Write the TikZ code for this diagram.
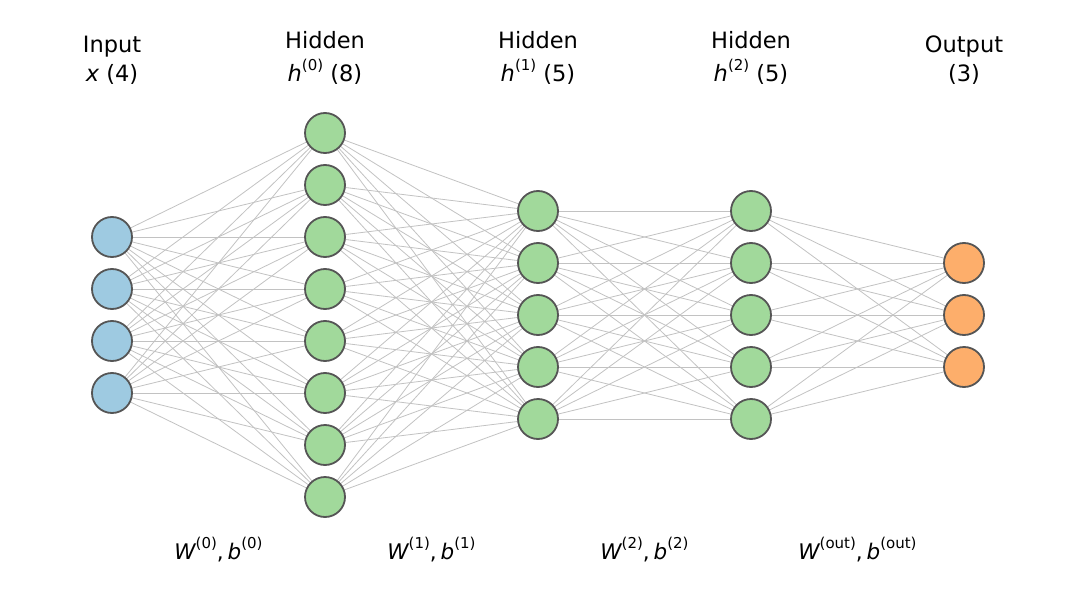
\documentclass[tikz,border=0pt]{standalone}
\usepackage{fontspec}
\setmainfont{DejaVu Sans}
\pgfdeclarelayer{bg}
\pgfsetlayers{bg,main}
\definecolor{inblue}{HTML}{9ECAE1}
\definecolor{hidgreen}{HTML}{A1D99B}
\definecolor{outorange}{HTML}{FDAE6B}
\definecolor{nborder}{HTML}{555555}
\definecolor{edgegray}{HTML}{C2C2C2}
\newcommand{\mysup}[1]{\raisebox{0.5em}{\fontsize{15}{15}\selectfont #1}}
\tikzset{
  neuron/.style={circle, draw=nborder, line width=1.8pt, minimum size=40pt, inner sep=0pt},
  inneuron/.style={neuron, fill=inblue},
  hidneuron/.style={neuron, fill=hidgreen},
  outneuron/.style={neuron, fill=outorange},
  conn/.style={draw=edgegray, line width=0.8pt},
  title/.style={font=\fontsize{22.5}{26}\selectfont, anchor=base, inner sep=0pt},
  wlabel/.style={font=\fontsize{21.5}{25}\selectfont, anchor=base, inner sep=0pt}
}
\begin{document}
\begin{tikzpicture}[x=1pt,y=-1pt]
\useasboundingbox (0,0) rectangle (1076,607);
% nodes
\foreach \k in {1,...,4} \node[inneuron] (i\k) at (112,{237+52*(\k-1)}) {};
\foreach \k in {1,...,8} \node[hidneuron] (a\k) at (325,{133+52*(\k-1)}) {};
\foreach \k in {1,...,5} \node[hidneuron] (b\k) at (538,{211+52*(\k-1)}) {};
\foreach \k in {1,...,5} \node[hidneuron] (c\k) at (751,{211+52*(\k-1)}) {};
\foreach \k in {1,...,3} \node[outneuron] (o\k) at (964,{263+52*(\k-1)}) {};
% connections
\begin{pgfonlayer}{bg}
\foreach \p in {1,...,4} \foreach \q in {1,...,8} \draw[conn] (i\p.center) -- (a\q.center);
\foreach \p in {1,...,8} \foreach \q in {1,...,5} \draw[conn] (a\p.center) -- (b\q.center);
\foreach \p in {1,...,5} \foreach \q in {1,...,5} \draw[conn] (b\p.center) -- (c\q.center);
\foreach \p in {1,...,5} \foreach \q in {1,...,3} \draw[conn] (c\p.center) -- (o\q.center);
\end{pgfonlayer}
% titles
\node[title] (t1a) at (112,53) {Input};
\node[title] (t1b) at (112,82) {\itshape x\upshape{} (4)};
\node[title] (t2a) at (325,49) {Hidden};
\node[title] (t2b) at (325,82) {\itshape h\upshape\mysup{(0)} (8)};
\node[title] (t3a) at (538,49) {Hidden};
\node[title] (t3b) at (538,82) {\itshape h\upshape\mysup{(1)} (5)};
\node[title] (t4a) at (751,49) {Hidden};
\node[title] (t4b) at (751,82) {\itshape h\upshape\mysup{(2)} (5)};
\node[title] (t5a) at (964,53) {Output};
\node[title] (t5b) at (964,82) {(3)};
% weight labels
\node[wlabel] (w0) at (218.5,559) {\itshape W\upshape\mysup{(0)},\hspace{0.18em}\itshape b\upshape\mysup{(0)}};
\node[wlabel] (w1) at (431.5,559) {\itshape W\upshape\mysup{(1)},\hspace{0.18em}\itshape b\upshape\mysup{(1)}};
\node[wlabel] (w2) at (644.5,559) {\itshape W\upshape\mysup{(2)},\hspace{0.18em}\itshape b\upshape\mysup{(2)}};
\node[wlabel] (w3) at (857.5,559) {\itshape W\upshape\mysup{(out)},\hspace{0.18em}\itshape b\upshape\mysup{(out)}};
\end{tikzpicture}
\end{document}
